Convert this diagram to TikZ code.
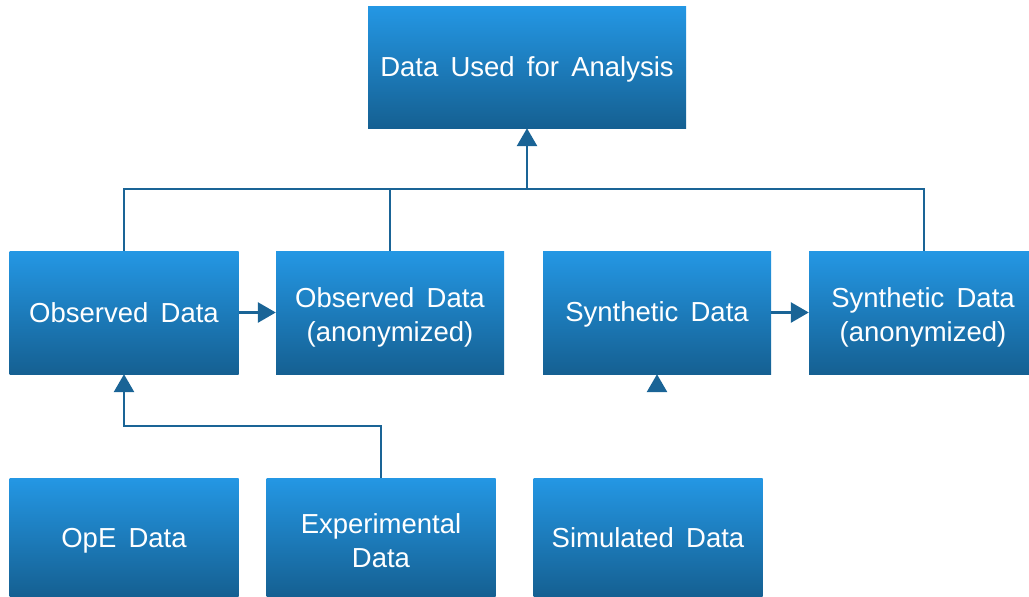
\documentclass[tikz,border=0pt]{standalone}
\usepackage{fontspec}
\setmainfont[WordSpace=1.6]{Liberation Sans}
\usetikzlibrary{arrows.meta}
\definecolor{boxtop}{RGB}{36,151,228}
\definecolor{boxbot}{RGB}{21,96,146}
\definecolor{linkc}{RGB}{26,100,150}
% strut that sets the height of a label's first line
\newcommand{\firststrut}[1]{\rule{0pt}{#1}}
\tikzset{
  databox/.style={rectangle, draw=none, top color=boxtop, bottom color=boxbot,
    text=white, font=\fontsize{27.5}{34}\selectfont, align=center,
    minimum width=229pt, minimum height=123pt, inner sep=0pt},
  link/.style={draw=linkc, line width=2.8pt},
  arrowlink/.style={link, -{Triangle[length=18pt,width=20pt]}},
  tiponly/.style={draw=white, line width=2.8pt, -{Triangle[length=18pt,width=20pt,color=linkc,fill=linkc]}}
}
\begin{document}
\begin{tikzpicture}[x=1pt,y=-1pt]
\useasboundingbox (0,0) rectangle (1029,597);
% boxes
\node[databox, minimum width=318pt, minimum height=122pt] (top) at (527,67) {\firststrut{25pt}Data Used for Analysis};
\node[databox] (obs)  at (124,312.5) {\firststrut{21pt}Observed Data};
\node[databox, minimum width=228pt] (obsA) at (390,312.5) {\firststrut{30pt}Observed Data\\(anonymized)};
\node[databox, minimum width=228pt] (syn)  at (657,312.5) {\firststrut{24pt}Synthetic Data};
\node[databox, minimum width=228pt] (synA) at (923,312.5) {\firststrut{30pt}Synthetic Data\\(anonymized)};
\node[databox, minimum height=118pt] (ope) at (124,537) {\firststrut{26pt}OpE Data};
\node[databox, minimum height=118pt] (exp) at (381,537) {\firststrut{27pt}Experimental\\Data};
\node[databox, minimum height=118pt] (sim) at (648,537) {\firststrut{22pt}Simulated Data};
% bus into the analysis box
\coordinate (busL) at (124,189);
\coordinate (busM) at (527,189);
\coordinate (busR) at (924,189);
\draw[link] (obs.north) -- (busL) -- (busR) -- (synA.north -| busR);
\draw[link] (obsA.north) -- (obsA.north |- busM);
\draw[arrowlink] (busM) -- (top.south);
% side arrows
\draw[arrowlink] (obs.east) -- (obsA.west);
\draw[arrowlink] (syn.east) -- (synA.west);
% experimental data feeding observed data
\coordinate (elbow) at (381,426);
\draw[arrowlink] (exp.north) -- (elbow) -- (elbow -| obs.south) -- (obs.south);
% simulated data feeding synthetic data
\draw[tiponly] (sim.north -| syn.south) -- (syn.south);
\end{tikzpicture}
\end{document}
